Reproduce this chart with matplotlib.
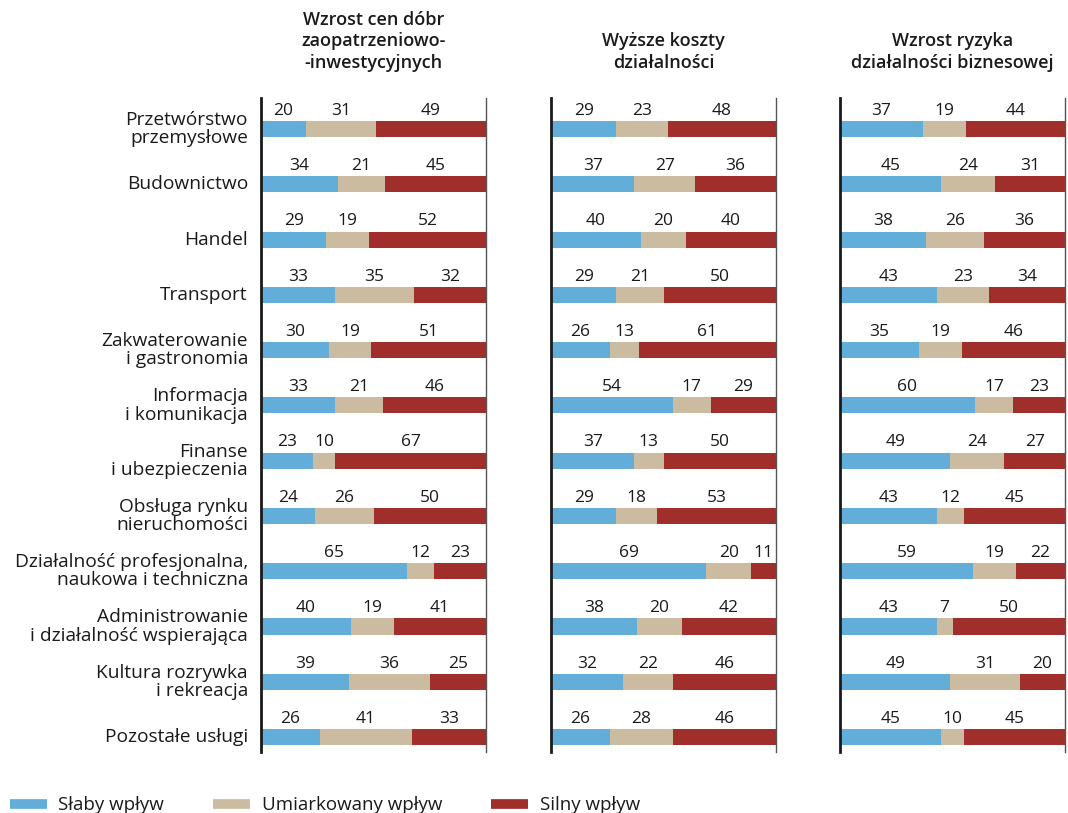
import matplotlib.pyplot as plt
from matplotlib.lines import Line2D

plt.rcParams['font.family'] = ['Open Sans', 'DejaVu Sans']

categories = [
    'Przetwórstwo\nprzemysłowe',
    'Budownictwo',
    'Handel',
    'Transport',
    'Zakwaterowanie\ni gastronomia',
    'Informacja\ni komunikacja',
    'Finanse\ni ubezpieczenia',
    'Obsługa rynku\nnieruchomości',
    'Działalność profesjonalna,\nnaukowa i techniczna',
    'Administrowanie\ni działalność wspierająca',
    'Kultura rozrywka\ni rekreacja',
    'Pozostałe usługi',
]

titles = [
    'Wzrost cen dóbr\nzaopatrzeniowo-\n-inwestycyjnych',
    'Wyższe koszty\ndziałalności',
    'Wzrost ryzyka\ndziałalności biznesowej',
]

series_names = ['Słaby wpływ', 'Umiarkowany wpływ', 'Silny wpływ']

# panel 1: wzrost cen dóbr zaopatrzeniowo-inwestycyjnych
p1_weak = [20, 34, 29, 33, 30, 33, 23, 24, 65, 40, 39, 26]
p1_mod = [31, 21, 19, 35, 19, 21, 10, 26, 12, 19, 36, 41]
p1_strong = [49, 45, 52, 32, 51, 46, 67, 50, 23, 41, 25, 33]

# panel 2: wyższe koszty działalności
p2_weak = [29, 37, 40, 29, 26, 54, 37, 29, 69, 38, 32, 26]
p2_mod = [23, 27, 20, 21, 13, 17, 13, 18, 20, 20, 22, 28]
p2_strong = [48, 36, 40, 50, 61, 29, 50, 53, 11, 42, 46, 46]

# panel 3: wzrost ryzyka działalności biznesowej
p3_weak = [37, 45, 38, 43, 35, 60, 49, 43, 59, 43, 49, 45]
p3_mod = [19, 24, 26, 23, 19, 17, 24, 12, 19, 7, 31, 10]
p3_strong = [44, 31, 36, 34, 46, 23, 27, 45, 22, 50, 20, 45]

panels = [
    (p1_weak, p1_mod, p1_strong),
    (p2_weak, p2_mod, p2_strong),
    (p3_weak, p3_mod, p3_strong),
]

colors = ['#63aed9', '#cbbba0', '#a02f2c']
text_color = '#1a1a1a'

fig = plt.figure(figsize=(10.68, 8.13), dpi=100)

lefts = [261 / 1068, 551 / 1068, 840 / 1068]
width = 225 / 1068
bottom = 1 - 752 / 813
height = (752 - 98) / 813

y = list(range(len(categories)))

for i, (weak, mod, strong) in enumerate(panels):
    ax = fig.add_axes([lefts[i], bottom, width, height])
    left = [0] * len(y)
    for vals, col in zip([weak, mod, strong], colors):
        ax.barh(y, vals, left=left, height=0.29, color=col, linewidth=0)
        for yy, l, v in zip(y, left, vals):
            ax.text(l + v / 2, yy - 0.33, str(v), ha='center', va='center',
                    fontsize=12.5, color=text_color)
        left = [a + b for a, b in zip(left, vals)]

    ax.set_xlim(0, 100)
    ax.set_ylim(11.27, -0.56)
    ax.set_xticks([])
    ax.set_yticks([])
    for s in ['top', 'bottom']:
        ax.spines[s].set_visible(False)
    ax.spines['left'].set_linewidth(2)
    ax.spines['left'].set_color('#1a1a1a')
    ax.spines['right'].set_linewidth(1)
    ax.spines['right'].set_color('#555555')

    ax.text(0.5, 1.04, titles[i], transform=ax.transAxes, ha='center',
            va='bottom', fontsize=13, fontweight='semibold', color=text_color,
            linespacing=1.25)

    if i == 0:
        for yy, cat in zip(y, categories):
            ax.text(-0.058, yy, cat, transform=ax.get_yaxis_transform(),
                    ha='right', va='center', multialignment='right',
                    fontsize=13.8, color=text_color, linespacing=1.02)

handles = [Line2D([], [], color=c, linewidth=7, solid_capstyle='butt') for c in colors]
fig.legend(handles, series_names, loc='lower left', bbox_to_anchor=(-0.005, -0.02),
           ncol=3, frameon=False, fontsize=13.5, handlelength=2.0,
           handletextpad=0.6, columnspacing=2.6, labelcolor=text_color,
           borderpad=0.3)

fig.savefig('out.png', dpi=100)
